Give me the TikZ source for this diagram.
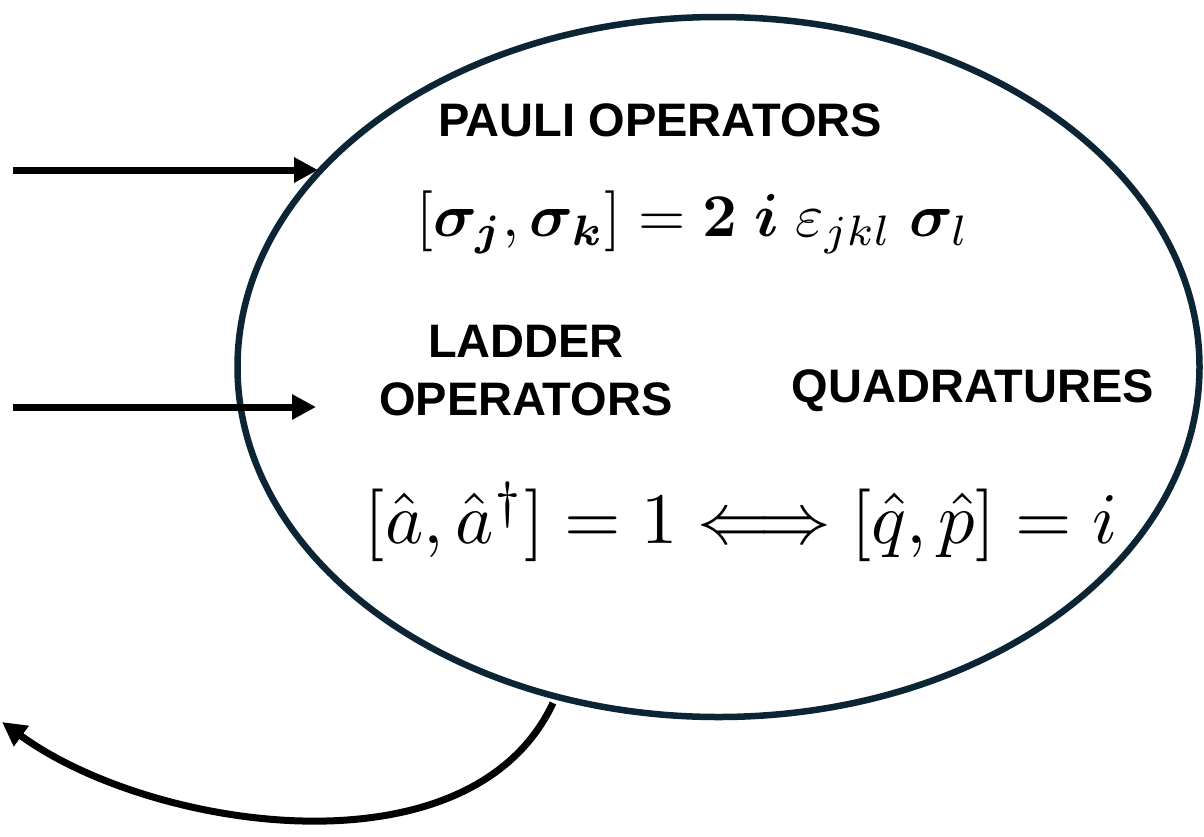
\documentclass[tikz,border=0pt]{standalone}
\usepackage{amsmath,amssymb,bm}
\usepackage{graphicx}
\usepackage{fontspec}
\newfontfamily\hdrfont{Liberation Sans}
\usetikzlibrary{arrows.meta,shapes.geometric}
\definecolor{ovalcol}{HTML}{0B2535}
\tikzset{
  hdr/.style={font=\hdrfont\fontsize{47}{58}\selectfont\bfseries, align=center, inner sep=0pt},
  arr/.style={line width=7pt, -{Triangle[length=24pt,width=24pt]}},
  oval/.style={draw=ovalcol, line width=6.5pt, ellipse, minimum width=962pt, minimum height=700pt, inner sep=0pt}
}
\begin{document}
\begin{tikzpicture}[x=1pt,y=-1pt]
\useasboundingbox (0,0) rectangle (1204,836);
\node[oval] (ov) at (718.5,367) {};
\node[hdr] (pauli) at (660,120) {PAULI OPERATORS};
\node[inner sep=0pt] (peq) at (693,222) {\resizebox{553pt}{!}{$[\bm{\sigma}_{\bm{j}},\bm{\sigma}_{\bm{k}}] = \bm{2}\;\bm{i}\;\varepsilon_{jkl}\;\bm{\sigma}_l$}};
\node[hdr] (ladder) at (526,371) {LADDER\\OPERATORS};
\node[hdr] (quad) at (973,391) {QUADRATURES};
\node[inner sep=0pt] (leq) at (741,522) {\resizebox{752pt}{!}{$[\hat a,\hat a^\dagger] = 1 \Longleftrightarrow [\hat q,\hat p] = i$}};
\coordinate (s1) at (13,170);
\coordinate (e1) at (318,170);
\coordinate (s2) at (13,407);
\coordinate (e2) at (316,407);
\coordinate (s3) at (553,703);
\coordinate (e3) at (2,722);
\draw[arr] (s1) -- (e1);
\draw[arr] (s2) -- (e2);
\draw[arr] (s3) .. controls (470,880) and (150,830) .. (e3);
\end{tikzpicture}
\end{document}
